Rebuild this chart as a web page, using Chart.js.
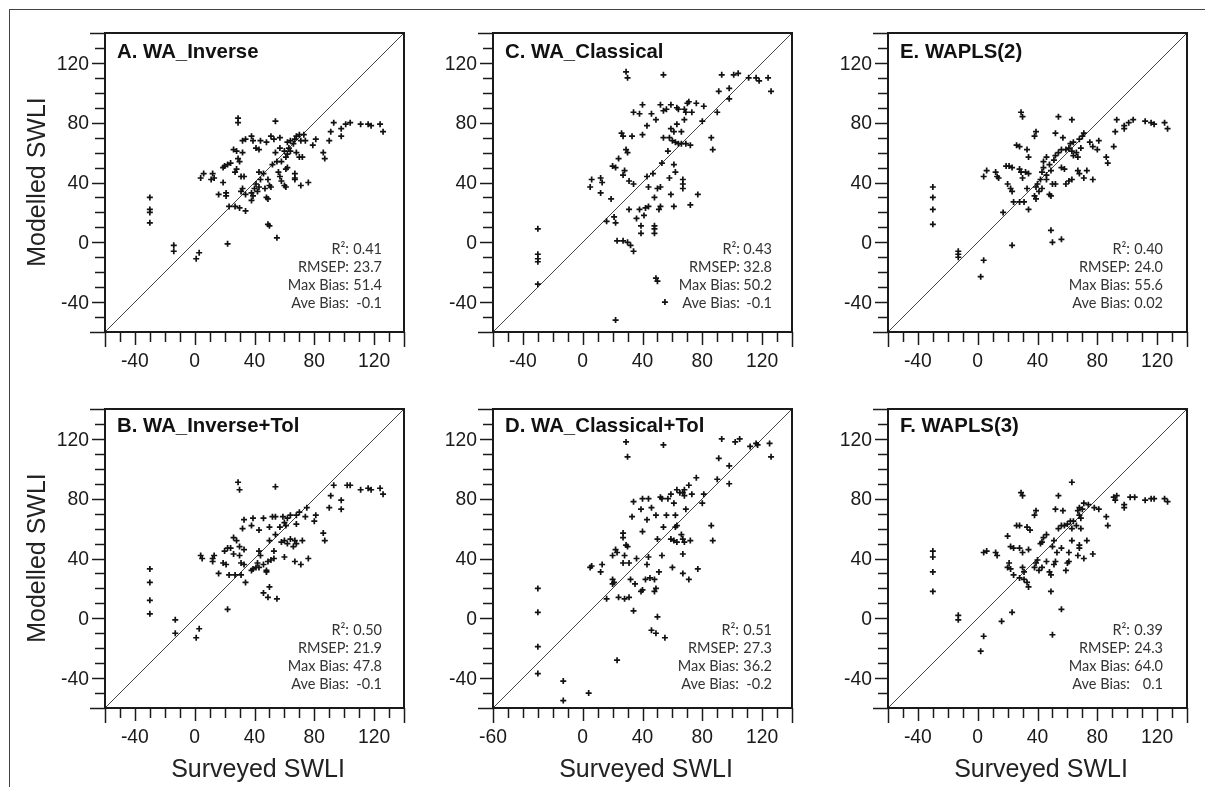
<!DOCTYPE html>
<html>
<head>
<meta charset="utf-8">
<script src="https://cdn.jsdelivr.net/npm/chart.js@4.4.1/dist/chart.umd.min.js"></script>
<style>
  body { margin: 0; background: #fff; width: 1205px; height: 787px; overflow: hidden; position: relative;
         font-family: "Liberation Sans", Arial, sans-serif; }
  #frame { position: absolute; left: 9px; top: 9px; width: 1210px; height: 790px;
           border-top: 1px solid #444; border-left: 1px solid #444; }
  canvas { position: absolute; }
  .ytitle { position: absolute; font-size: 25px; color: #222; white-space: nowrap;
            transform: translate(-50%, -50%) rotate(-90deg); }
  .xtitle { position: absolute; font-size: 25px; color: #222; white-space: nowrap;
            transform: translate(-50%, -50%); }
</style>
</head>
<body>
<div id="frame"></div>
<script>
// axis ranges and tick labels (same for every panel except D's x axis)
const axisMin = -60, axisMax = 140;
const yTickLabels = [-40, 0, 40, 80, 120];
const xTickLabels = [-40, 0, 40, 80, 120];
const xTickLabelsD = [-60, 0, 40, 80, 120];
const statNames = ['R\u00B2:', 'RMSEP:', 'Max Bias:', 'Ave Bias:'];

// [surveyed, modelled] pairs
const ptsA = [[-30,30],[-30,22],[-30,20],[-30,13],[-14,-2],[-14,-6],[3,-7],[1,-11],[22,-1],[49,12],[50,11],[55,3],
  [29,83],[29,80],[54,81],[93,80],[91,74],[90,68],[98,76],[98,71],[101,79],[104,80],[111,79],[116,79],[118,78],[124,79],[126,74],
  [86,60],[87,56],[81,69],[79,65],[74,68],[68,71],[70,72],[73,72],[71,68],[67,69],[64,68],[62,67],[66,66],[63,63],[64,61],
  [68,60],[70,57],[72,57],[62,59],[60,61],[61,57],[58,54],[55,54],[52,52],[54,60],[57,63],[32,68],[34,69],[38,71],[39,68],
  [41,63],[44,68],[48,67],[43,62],[51,71],[53,69],[57,70],[26,62],[28,61],[32,60],[29,56],[30,54],[24,53],[22,52],[19,50],
  [20,51],[28,49],[27,47],[31,44],[33,44],[6,46],[4,43],[12,46],[13,43],[11,42],[19,40],[21,33],[21,31],[16,32],[32,36],
  [31,34],[34,32],[38,33],[39,31],[38,28],[40,36],[43,37],[42,34],[44,42],[43,47],[46,46],[49,42],[51,37],[50,38],[47,36],
  [48,30],[49,29],[56,47],[57,44],[58,41],[60,38],[61,37],[61,49],[62,50],[67,46],[67,43],[67,42],[71,38],[76,40],[23,24],
  [27,24],[30,23],[34,21],[41,39]];

const ptsB = [[-30,33],[-30,24],[-30,12],[-30,3],[-13,-1],[-13,-10],[3,-7],[1,-13],[22,6],[46,17],[49,14],[50,21],[55,13],
  [29,91],[30,86],[54,88],[93,89],[91,82],[90,74],[98,79],[98,73],[102,89],[104,89],[111,86],[116,87],[118,86],[124,87],[126,83],
  [86,57],[87,52],[81,69],[80,65],[75,74],[74,68],[70,71],[68,69],[64,69],[68,63],[62,67],[60,64],[59,68],[54,68],[52,68],
  [57,61],[61,62],[54,56],[50,52],[58,51],[60,52],[62,50],[64,53],[67,52],[68,50],[72,52],[66,48],[53,45],[51,39],[49,38],
  [60,41],[67,38],[71,36],[76,40],[33,66],[39,67],[38,62],[43,59],[46,67],[50,61],[32,60],[26,54],[28,52],[30,48],[24,47],
  [22,47],[20,45],[26,43],[30,42],[33,46],[4,42],[5,40],[12,40],[13,42],[12,38],[19,37],[21,36],[16,30],[23,29],[27,29],
  [31,29],[34,24],[31,37],[33,36],[38,32],[39,33],[41,34],[42,37],[43,34],[46,36],[48,32],[48,31],[43,45],[44,42],[53,40]];

const ptsC = [[-30,9],[-30,-8],[-30,-11],[-30,-13],[-30,-28],[22,-52],[49,-24],[50,-26],[55,-40],[29,114],[30,110],[54,112],
  [93,112],[91,101],[98,103],[98,96],[101,112],[104,113],[111,110],[116,110],[118,108],[124,110],[126,101],[90,87],[86,70],
  [87,62],[80,81],[81,91],[76,93],[71,94],[70,93],[68,89],[69,87],[73,87],[64,89],[63,90],[59,92],[56,89],[52,92],[54,88],
  [68,82],[63,79],[59,76],[61,74],[66,74],[54,70],[58,70],[60,68],[62,67],[64,66],[66,66],[69,66],[72,65],[57,61],[53,53],
  [61,52],[62,47],[58,43],[67,42],[67,39],[67,36],[77,32],[72,25],[61,24],[59,32],[52,37],[50,36],[48,30],[52,24],[51,22],
  [44,37],[43,44],[47,46],[40,92],[34,87],[38,86],[46,86],[49,82],[43,78],[40,72],[33,71],[26,73],[27,71],[29,62],[30,60],
  [24,56],[20,51],[22,50],[28,48],[27,45],[31,41],[34,39],[6,42],[5,37],[12,43],[13,40],[12,33],[19,29],[16,14],[21,17],
  [22,13],[23,1],[27,1],[30,0],[32,-2],[34,-6],[31,22],[36,16],[39,11],[39,6],[41,18],[42,23],[44,24],[48,11],[48,9],
  [48,6],[38,22]];

const ptsD = [[-30,20],[-30,4],[-30,-19],[-30,-37],[-13,-42],[-13,-55],[4,-50],[23,-28],[34,5],[50,1],[46,-8],[49,-10],
  [55,-13],[29,118],[30,108],[54,116],[93,120],[91,107],[98,102],[98,90],[102,118],[105,120],[112,115],[116,117],[117,116],
  [125,117],[126,108],[90,93],[86,62],[87,52],[81,83],[80,77],[76,94],[71,89],[68,86],[67,84],[68,82],[63,86],[65,84],
  [69,73],[73,83],[59,83],[61,77],[57,80],[52,81],[53,80],[49,69],[46,74],[44,80],[40,80],[34,78],[33,68],[39,73],[43,66],
  [56,69],[62,69],[63,62],[54,61],[62,61],[50,53],[59,53],[61,52],[63,51],[66,56],[67,53],[68,51],[72,52],[67,43],[60,34],
  [53,42],[51,31],[48,26],[45,27],[42,26],[49,20],[48,18],[39,18],[40,19],[67,30],[71,26],[77,33],[40,58],[44,41],[43,36],
  [36,40],[31,37],[27,57],[27,54],[29,49],[30,48],[22,46],[23,44],[20,42],[28,42],[27,37],[6,35],[5,34],[12,31],[13,36],
  [20,26],[21,24],[20,23],[16,13],[24,14],[28,13],[31,14],[32,26],[35,23]];

const ptsE = [[-30,37],[-30,30],[-30,22],[-30,12],[-13,-6],[-13,-8],[-13,-10],[4,-12],[2,-23],[23,-2],[49,8],[50,0],[56,2],
  [29,87],[30,84],[54,84],[63,82],[93,82],[92,74],[91,64],[98,76],[98,78],[101,80],[104,82],[112,81],[116,80],[118,79],
  [125,80],[127,76],[86,57],[87,53],[81,68],[80,62],[75,67],[77,64],[71,73],[70,71],[68,69],[64,67],[62,66],[61,63],[59,62],
  [56,62],[54,60],[63,61],[66,60],[64,58],[67,57],[69,63],[52,73],[57,70],[39,74],[38,71],[26,65],[28,64],[33,62],[34,57],
  [46,57],[44,54],[52,58],[56,50],[58,49],[6,48],[4,44],[12,47],[13,44],[14,43],[19,51],[21,51],[23,50],[28,49],[29,47],
  [30,43],[32,47],[34,46],[20,39],[22,36],[23,34],[17,20],[24,27],[28,27],[31,27],[34,22],[33,36],[39,37],[40,39],[42,42],
  [43,47],[46,45],[46,42],[41,34],[43,36],[38,31],[39,29],[48,32],[49,31],[50,39],[52,39],[59,39],[61,41],[63,42],[67,48],
  [68,46],[73,48],[71,43],[77,42],[48,52],[51,55],[49,48],[44,50]];

const ptsF = [[-30,45],[-30,41],[-30,31],[-30,18],[-13,2],[-13,-1],[4,-12],[2,-22],[16,-2],[23,4],[49,18],[56,6],[50,-11],
  [63,91],[29,84],[30,82],[54,82],[52,73],[57,72],[39,72],[38,69],[26,62],[28,62],[33,61],[35,59],[20,55],[91,81],[93,82],
  [92,79],[98,76],[98,74],[102,81],[105,81],[112,79],[116,80],[118,80],[125,80],[127,78],[86,68],[87,62],[81,73],[78,74],
  [74,76],[71,77],[68,74],[67,72],[70,73],[68,69],[69,67],[64,65],[62,65],[60,63],[58,62],[56,62],[54,60],[63,60],[66,62],
  [69,60],[46,56],[44,54],[43,51],[42,50],[51,52],[50,48],[56,47],[63,52],[68,49],[73,52],[68,47],[61,44],[67,42],[71,40],
  [77,43],[61,38],[60,37],[59,32],[52,38],[51,36],[53,44],[6,45],[4,44],[12,44],[13,42],[22,48],[24,47],[28,47],[30,44],
  [34,46],[21,37],[20,34],[22,33],[30,34],[31,31],[24,29],[28,27],[31,26],[33,24],[34,21],[38,34],[39,37],[40,39],[41,32],
  [43,34],[46,38],[48,31],[49,29]];

const statsA = ['0.41', '23.7', '51.4', '-0.1'];
const statsB = ['0.50', '21.9', '47.8', '-0.1'];
const statsC = ['0.43', '32.8', '50.2', '-0.1'];
const statsD = ['0.51', '27.3', '36.2', '-0.2'];
const statsE = ['0.40', '24.0', '55.6', '0.02'];
const statsF = ['0.39', '24.3', '64.0', '0.1'];

const oneToOne = [[axisMin, axisMin], [axisMax, axisMax]];

const panels = [
  { title: 'A. WA_Inverse',        pts: ptsA, stats: statsA, left: 105, top: 33,  xLabels: xTickLabels,  row: 0, colX: 244, valX: 277 },
  { title: 'B. WA_Inverse+Tol',    pts: ptsB, stats: statsB, left: 105, top: 409, xLabels: xTickLabels,  row: 1, colX: 244, valX: 277 },
  { title: 'C. WA_Classical',      pts: ptsC, stats: statsC, left: 493, top: 33,  xLabels: xTickLabels,  row: 0, colX: 247, valX: 279 },
  { title: 'D. WA_Classical+Tol',  pts: ptsD, stats: statsD, left: 493, top: 409, xLabels: xTickLabelsD, row: 1, colX: 246, valX: 279 },
  { title: 'E. WAPLS(2)',          pts: ptsE, stats: statsE, left: 888, top: 33,  xLabels: xTickLabels,  row: 0, colX: 242, valX: 275 },
  { title: 'F. WAPLS(3)',          pts: ptsF, stats: statsF, left: 888, top: 409, xLabels: xTickLabels,  row: 1, colX: 242, valX: 275 }
];

const PAD = { left: 100, top: 25, right: 11, bottom: 56 };
const SIZE = 299;

// text squeezed a little horizontally, like the original axis numbers
function squeezedText(ctx, text, x, y, align, sx) {
  ctx.save();
  ctx.translate(x, y);
  ctx.scale(sx, 1);
  ctx.textAlign = align;
  ctx.fillText(text, 0, 0);
  ctx.restore();
}

// frame, ticks, tick labels, panel title and fit statistics
const panelDecor = {
  id: 'panelDecor',
  afterDraw(chart, args, opts) {
    const { ctx, chartArea: a, scales: { x, y } } = chart;
    const line = (x1, y1, x2, y2) => { ctx.beginPath(); ctx.moveTo(x1, y1); ctx.lineTo(x2, y2); ctx.stroke(); };
    ctx.save();
    ctx.strokeStyle = '#1a1a1a';
    ctx.lineWidth = 2;
    ctx.strokeRect(a.left, a.top, a.right - a.left, a.bottom - a.top);

    ctx.lineWidth = 1.5;
    for (let v = axisMin; v <= axisMax; v += 10) {
      const end = v === axisMin || v === axisMax;
      const px = Math.round(x.getPixelForValue(v)) + 0.5;
      const lx = end ? 15 : (opts.xLabels.includes(v) ? 13 : 10);
      line(px, a.bottom, px, a.bottom + lx);
      const py = Math.round(y.getPixelForValue(v)) + 0.5;
      const ly = end ? 15 : (yTickLabels.includes(v) ? 13 : 10);
      line(a.left - ly, py, a.left, py);
    }

    ctx.fillStyle = '#1a1a1a';
    ctx.font = '21px "Liberation Sans", Arial, sans-serif';
    ctx.textBaseline = 'middle';
    opts.xLabels.forEach(v => squeezedText(ctx, String(v), x.getPixelForValue(v), a.bottom + 29, 'center', 0.92));
    yTickLabels.forEach(v => squeezedText(ctx, String(v), a.left - 16, y.getPixelForValue(v) + 1, 'right', 0.92));

    ctx.fillStyle = '#111';
    ctx.font = 'bold 21px "Liberation Sans", Arial, sans-serif';
    squeezedText(ctx, opts.title, a.left + 12, a.top + (opts.row ? 17 : 19), 'left', 0.97);

    ctx.fillStyle = '#333';
    ctx.font = '14.5px Lato, "Open Sans", sans-serif';
    const sy = a.top + (opts.row ? 221 : 216);
    ctx.textAlign = 'right';
    statNames.forEach((name, i) => {
      ctx.fillText(name, a.left + opts.colX, sy + i * 18);
      ctx.fillText(opts.stats[i], a.left + opts.valX, sy + i * 18);
    });
    ctx.restore();
  }
};

panels.forEach(p => {
  const cv = document.createElement('canvas');
  cv.width = PAD.left + SIZE + PAD.right;
  cv.height = PAD.top + SIZE + PAD.bottom;
  cv.style.left = (p.left - PAD.left) + 'px';
  cv.style.top = (p.top - PAD.top) + 'px';
  document.body.appendChild(cv);

  new Chart(cv, {
    type: 'scatter',
    data: {
      datasets: [
        {
          data: p.pts.map(([sx, my]) => ({ x: sx, y: my })),
          pointStyle: 'cross',
          pointRadius: 3,
          pointHoverRadius: 3,
          borderColor: '#111',
          borderWidth: 1.7,
          order: 0
        },
        {
          data: oneToOne.map(([a, b]) => ({ x: a, y: b })),
          showLine: true,
          pointRadius: 0,
          borderColor: '#444',
          borderWidth: 1,
          order: 1
        }
      ]
    },
    options: {
      responsive: false,
      animation: false,
      devicePixelRatio: 1,
      layout: { padding: PAD },
      scales: {
        x: { type: 'linear', min: axisMin, max: axisMax, display: false },
        y: { type: 'linear', min: axisMin, max: axisMax, display: false }
      },
      plugins: {
        legend: { display: false },
        tooltip: { enabled: false },
        panelDecor: { title: p.title, stats: p.stats, xLabels: p.xLabels, row: p.row, colX: p.colX, valX: p.valX }
      }
    },
    plugins: [panelDecor]
  });
});

// shared axis titles
const addTitle = (cls, text, x, y) => {
  const d = document.createElement('div');
  d.className = cls;
  d.textContent = text;
  d.style.left = x + 'px';
  d.style.top = y + 'px';
  document.body.appendChild(d);
};
addTitle('ytitle', 'Modelled SWLI', 36, 182);
addTitle('ytitle', 'Modelled SWLI', 36, 558);
addTitle('xtitle', 'Surveyed SWLI', 258, 768);
addTitle('xtitle', 'Surveyed SWLI', 646, 768);
addTitle('xtitle', 'Surveyed SWLI', 1041, 768);
</script>
</body>
</html>
